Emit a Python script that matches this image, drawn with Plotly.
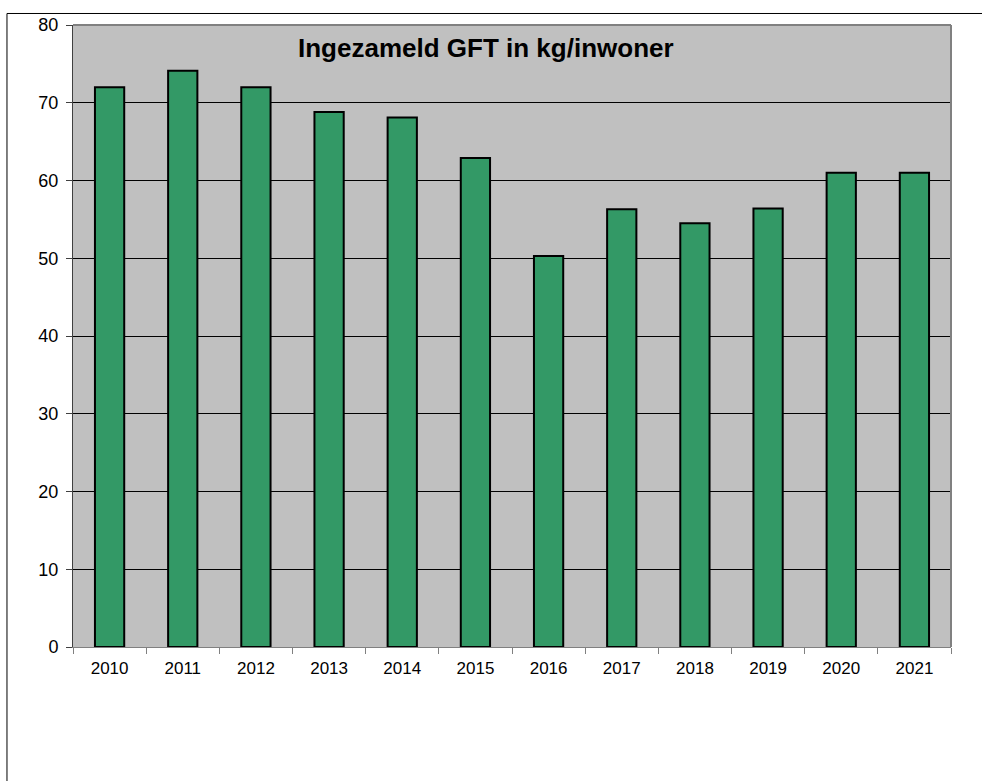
import plotly.graph_objects as go

years = ["2010", "2011", "2012", "2013", "2014", "2015",
         "2016", "2017", "2018", "2019", "2020", "2021"]
gft_kg = [72.0, 74.1, 72.0, 68.8, 68.1, 62.9, 50.3, 56.3, 54.5, 56.4, 61.0, 61.0]
y_ticks = [0, 10, 20, 30, 40, 50, 60, 70, 80]
title_text = "Ingezameld GFT in kg/inwoner"

fig = go.Figure(go.Bar(
    x=years,
    y=gft_kg,
    marker=dict(color="#339966", line=dict(color="black", width=2)),
))

fig.update_layout(
    width=982, height=781,
    margin=dict(l=73, r=31, t=25, b=134),
    paper_bgcolor="white",
    plot_bgcolor="#C0C0C0",
    font=dict(family="Liberation Sans, Arial", size=17, color="black"),
    bargap=0.6,
    showlegend=False,
)

fig.update_xaxes(
    type="category",
    tickson="boundaries",
    ticks="outside", ticklen=6, tickcolor="#808080",
    showline=True, linecolor="#808080", linewidth=1,
    showgrid=False,
    tickfont=dict(size=17),
    ticklabelstandoff=6,
)
fig.update_yaxes(
    range=[0, 80],
    tickvals=y_ticks,
    ticks="outside", ticklen=6, tickcolor="#404040",
    showline=True, linecolor="#404040", linewidth=1,
    showgrid=True, gridcolor="black", gridwidth=1,
    zeroline=False,
    tickfont=dict(size=18),
    ticklabelstandoff=4,
)

# darker border on top and right of the plot area
fig.add_shape(type="line", xref="paper", yref="paper", x0=0, x1=1, y0=1, y1=1,
              line=dict(color="#808080", width=2))
fig.add_shape(type="line", xref="paper", yref="paper", x0=1, x1=1, y0=0, y1=1,
              line=dict(color="#808080", width=2))

# outer chart frame (cut off on right and bottom)
fig.add_shape(type="rect", xref="paper", yref="paper",
              x0=-0.0752, x1=1.2, y0=-0.4, y1=1.0185,
              line=dict(color="black", width=1), layer="below")

fig.add_annotation(
    text=f"<b>{title_text}</b>",
    xref="paper", yref="paper", x=0.47, y=0.963,
    xanchor="center", yanchor="middle",
    showarrow=False, font=dict(size=26, color="black"),
)

# drop the default body margin so the figure fills the window exactly
fig.write_html("out.html",
               config={"displayModeBar": False},
               post_script="document.body.style.margin='0';"
                           "document.body.style.overflow='hidden';")
